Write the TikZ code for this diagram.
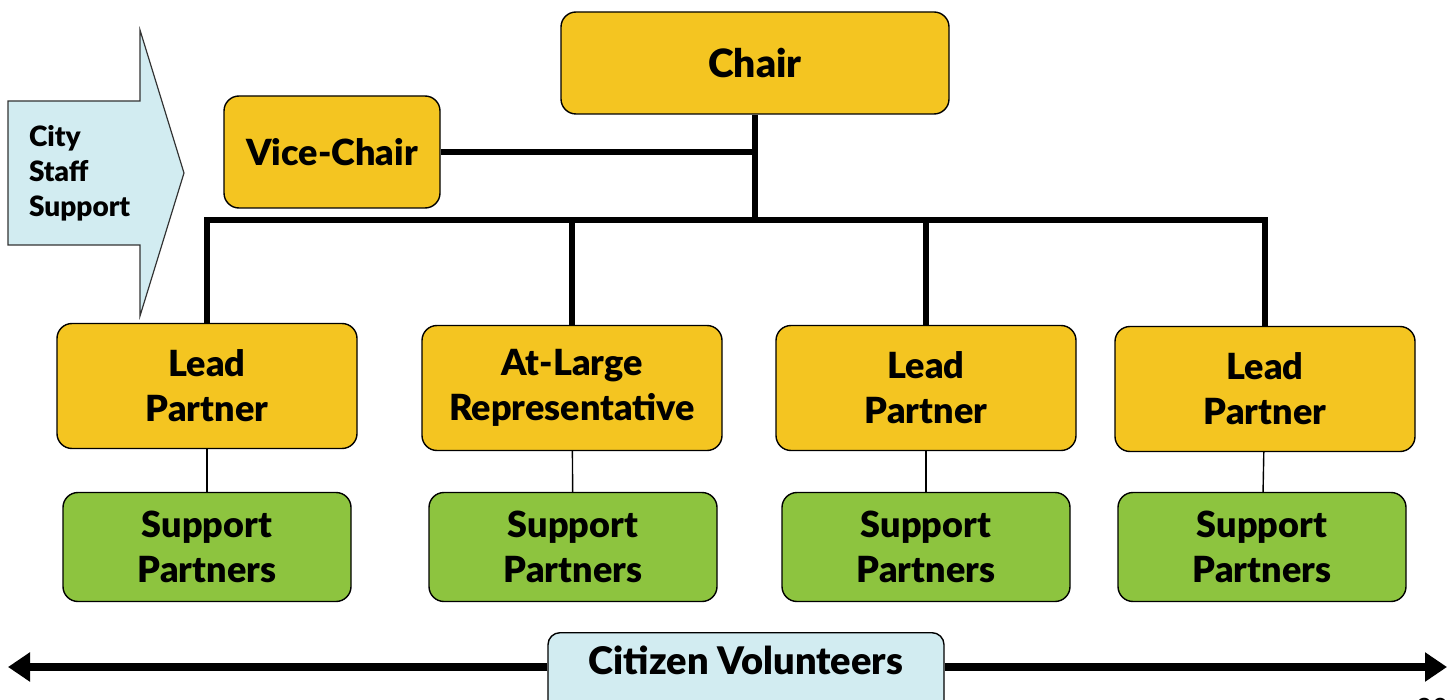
\documentclass[tikz,border=0pt]{standalone}
\usepackage{fontspec}
\setmainfont{Lato}[BoldFont={Lato Black}]
\usetikzlibrary{arrows.meta,positioning}
\definecolor{chairgold}{HTML}{F4C521}
\definecolor{supportgreen}{HTML}{8DC43F}
\definecolor{staffblue}{HTML}{D2ECF1}

\tikzset{
  box/.style={draw=black, line width=0.7pt, rounded corners=7.5pt, align=center,
    font=\bfseries\fontsize{18}{22.5}\selectfont},
  leadbox/.style={box, fill=chairgold, minimum width=150pt, minimum height=62.5pt},
  suppbox/.style={box, fill=supportgreen, minimum width=144pt, minimum height=54.5pt},
  trunk/.style={line width=2.6pt},
  twig/.style={line width=0.7pt},
  volarrow/.style={line width=4pt, -{Triangle[length=11pt,width=14pt]}}
}

\begin{document}
\begin{tikzpicture}[x=0.5pt,y=-0.5pt]
  \useasboundingbox (0,0) rectangle (1455,700);

  % city staff arrow
  \draw[fill=staffblue, draw=black!80, line width=0.6pt]
    (8,101) -- (140,101) -- (140,30) -- (184,173) -- (140,316)
    -- (140,245) -- (8,245) -- cycle;
  \node[anchor=west, align=left, font=\bfseries\fontsize{14}{17.5}\selectfont]
    (staff) at (22,173) {City\\Staff\\Support};

  % top of the tree
  \node[box, fill=chairgold, minimum width=194pt, minimum height=51pt,
    font=\bfseries\fontsize{19.5}{24}\selectfont] (chair) at (755,63) {Chair};
  \node[box, fill=chairgold, minimum width=108pt, minimum height=56pt] (vice) at (332,152) {Vice-Chair};
  \coordinate (hub) at (755,220);

  % lead row
  \node[leadbox] (lead1) at (207,386) {Lead\\Partner};
  \node[leadbox] (atlarge) at (572,388) {At-Large\\Representative};
  \node[leadbox] (lead3) at (926,388) {Lead\\Partner};
  \node[leadbox] (lead4) at (1265,389) {Lead\\Partner};

  % support row
  \node[suppbox] (supp1) at (207,547) {Support\\Partners};
  \node[suppbox] (supp2) at (573,547) {Support\\Partners};
  \node[suppbox] (supp3) at (926,547) {Support\\Partners};
  \node[suppbox] (supp4) at (1262,547) {Support\\Partners};

  \draw[trunk] (chair.south) -- (hub);
  \draw[trunk] (vice.east) -- (vice.east -| hub);
  \draw[trunk] (lead1.north) |- (hub) -| (lead4.north);
  \draw[trunk] (atlarge.north) -- (atlarge.north |- hub);
  \draw[trunk] (lead3.north) -- (lead3.north |- hub);

  \draw[twig] (lead1) -- (supp1);
  \draw[twig] (atlarge) -- (supp2);
  \draw[twig] (lead3) -- (supp3);
  \draw[twig] (lead4) -- (supp4);

  % citizen volunteers
  \node[box, fill=staffblue, anchor=north, minimum width=198pt, inner ysep=4pt,
    text height=17pt, text depth=16.5pt, rounded corners=6pt,
    font=\bfseries\fontsize{19}{23}\selectfont] (citizen) at (746,632) {Citizen Volunteers};
  \coordinate (westend) at (8,667);
  \coordinate (eastend) at (1447,667);
  \draw[volarrow] (citizen.west |- westend) -- (westend);
  \draw[volarrow] (citizen.east |- eastend) -- (eastend);

  \node[anchor=north, font=\fontsize{14}{16}\selectfont] (pagenum) at (1432,691) {30};
\end{tikzpicture}
\end{document}
